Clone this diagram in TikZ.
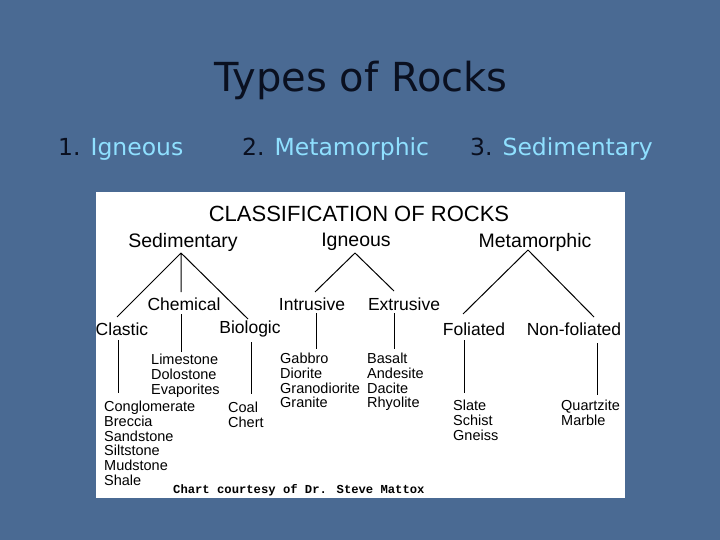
\documentclass[tikz,border=0pt]{standalone}
\usepackage{fontspec}
\setmainfont{DejaVu Sans}
\newfontfamily\arl{Liberation Sans}
\newfontfamily\mono{Liberation Mono}
\begin{document}
\begin{tikzpicture}[x=1pt,y=-1pt,
  hd/.style={font=\arl\fontsize{19.5}{22}\selectfont},
  sub/.style={font=\arl\fontsize{17.5}{20}\selectfont},
  lst/.style={font=\arl\fontsize{14.5}{14.7}\selectfont,align=left,anchor=north west,inner sep=0pt},
  ln/.style={line width=1pt},
  item/.style={font=\fontsize{23.5}{26}\selectfont,anchor=west,inner sep=0pt}]
\definecolor{bg}{HTML}{4A6A93}
\definecolor{cy}{HTML}{8FE0FF}
\definecolor{tt}{HTML}{0A1020}
\fill[bg] (0,0) rectangle (720,540);
\useasboundingbox (0,0) rectangle (720,540);
\node[font=\fontsize{40}{46}\selectfont,text=tt] (title) at (361,80) {Types of Rocks};
\node[item,text=tt] (i1) at (58,149) {1. \textcolor{cy}{Igneous}};
\node[item,text=tt] (i2) at (242,149) {2. \textcolor{cy}{Metamorphic}};
\node[item,text=tt] (i3) at (470,149) {3. \textcolor{cy}{Sedimentary}};
\fill[white] (96,192) rectangle (625,498);
\node[font=\arl\fontsize{22}{24}\selectfont] (cls) at (359,214) {CLASSIFICATION OF ROCKS};
\node[hd] (sed) at (183,242) {Sedimentary};
\node[hd] (ign) at (356,242) {Igneous};
\node[hd] (met) at (535,242) {Metamorphic};
\node[sub] (chem) at (184,304) {Chemical};
\node[sub] (clas) at (122,329) {Clastic};
\node[sub] (bio) at (250,329) {Biologic};
\node[sub] (intr) at (312,304) {Intrusive};
\node[sub] (extr) at (404,304) {Extrusive};
\node[sub] (fol) at (474,329) {Foliated};
\node[sub] (nfol) at (574,329) {Non-foliated};
\coordinate (sa) at (181,253); \coordinate (ia) at (355,253); \coordinate (ma) at (528,250);
\draw[ln] (sa) -- (117,317) (sa) -- (181,292) (sa) -- (248,319);
\draw[ln] (ia) -- (315,292) (ia) -- (394,291);
\draw[ln] (ma) -- (463,314) (ma) -- (594,317);
\draw[ln] (181,314) -- (181,352);
\draw[ln] (118,340) -- (118,393);
\draw[ln] (251,342) -- (251,394);
\draw[ln] (316,313) -- (316,349);
\draw[ln] (394,313) -- (394,349);
\draw[ln] (464,340) -- (464,393);
\draw[ln] (597,343) -- (597,395);
\node[lst] (l1) at (151,354) {Limestone\\Dolostone\\Evaporites};
\node[lst] (l2) at (104,401) {Conglomerate\\Breccia\\Sandstone\\Siltstone\\Mudstone\\Shale};
\node[lst] (l3) at (228,402) {Coal\\Chert};
\node[lst] (l4) at (280,353) {Gabbro\\Diorite\\Granodiorite\\Granite};
\node[lst] (l5) at (367,353) {Basalt\\Andesite\\Dacite\\Rhyolite};
\node[lst] (l6) at (453,400) {Slate\\Schist\\Gneiss};
\node[lst] (l7) at (561,400) {Quartzite\\Marble};
\node[font=\mono\bfseries\fontsize{12.2}{14}\selectfont,anchor=west,inner sep=0pt] (cr) at (173,490) {Chart courtesy of Dr. Steve Mattox};
\end{tikzpicture}
\end{document}
